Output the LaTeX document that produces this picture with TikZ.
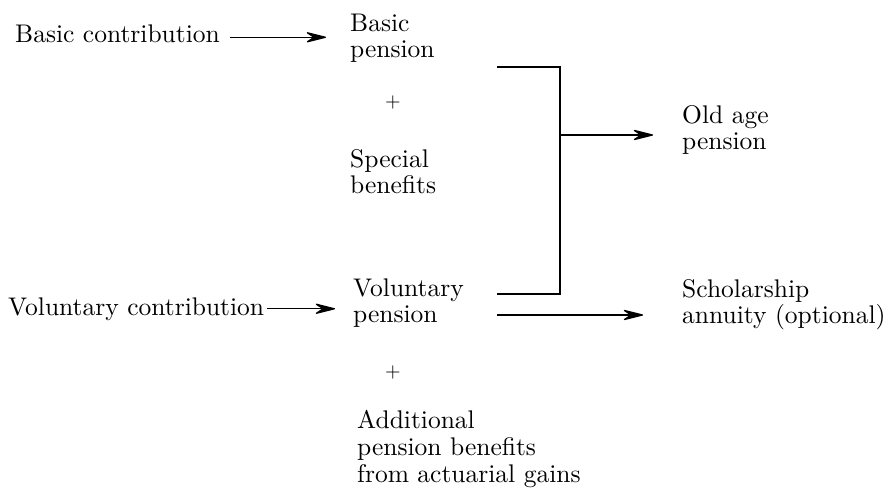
\documentclass[tikz,border=0pt]{standalone}
\usepackage{fontspec}
\setmainfont{lmroman10-regular.otf}
\usetikzlibrary{arrows.meta}
\begin{document}
\begin{tikzpicture}[x=1pt,y=-1pt,
  txt/.style={inner sep=0pt,align=left,font=\fontsize{25.5}{26}\selectfont},
  plus/.style={inner sep=0pt,font=\fontsize{20}{20}\selectfont},
  conn/.style={line width=1.3pt},
  flow/.style={conn,-{Stealth[length=24pt,width=12pt,inset=9pt,round]}}]
\useasboundingbox (0,0) rectangle (888,489);

% left column: contributions
\node[txt,anchor=base west] (bc) at (15,43) {Basic contribution};
\node[txt,anchor=base west] (vc) at (8,315) {Voluntary contribution};

% middle column: pension components
\node[txt,anchor=north west] (bp) at (350,14) {Basic\\pension};
\node[plus] (p1) at (393,103) {+};
\node[txt,anchor=north west] (sb) at (350,149) {Special\\benefits};
\node[txt,anchor=north west] (vp) at (353,279) {Voluntary\\pension};
\node[plus] (p2) at (393,372) {+};
\node[txt,anchor=north west,font=\fontsize{25.5}{27}\selectfont] (ab) at (357,410)
  {Additional\\pension benefits\\from actuarial gains};

% right column: outcomes
\node[txt,anchor=north west] (oa) at (682,105) {Old age\\pension};
\node[txt,anchor=north west] (sa) at (682,279) {Scholarship\\annuity (optional)};

% inputs
\draw[flow,shorten <=10pt,shorten >=24pt,transform canvas={yshift=-3pt}] (bc.east) -- (bc.east -| bp.west);
\draw[flow,shorten <=3pt,shorten >=18pt] (vc.east) -- (vc.east -| vp.west);

% bracket joining basic and voluntary pensions
\coordinate (t0) at (497,67);
\coordinate (t1) at (560,67);
\coordinate (b1) at (560,294);
\coordinate (b0) at (497,294);
\coordinate (mid) at (560,135);
\draw[conn] (t0) -- (t1) -- (b1) -- (b0);
\draw[flow,shorten >=29pt] (mid) -- (mid -| oa.west);

% optional annuity
\coordinate (s0) at (497,315);
\draw[flow,shorten >=39pt] (s0) -- (s0 -| sa.west);
\end{tikzpicture}
\end{document}
